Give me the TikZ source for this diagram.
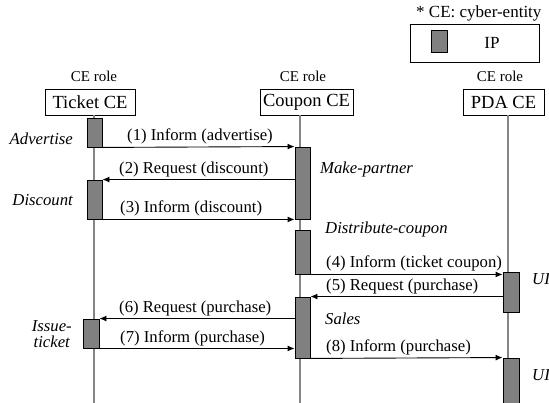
\documentclass[tikz,border=0pt]{standalone}
\usepackage{fontspec}
\setmainfont{Liberation Serif}
\usetikzlibrary{arrows.meta}
\definecolor{barfill}{HTML}{808080}
\definecolor{lifegray}{HTML}{858585}
\begin{document}
\begin{tikzpicture}[x=1pt,y=-1pt,
  lifeline/.style={draw=lifegray,line width=2.5pt},
  actbar/.style={draw=black,fill=barfill,line width=0.9pt,inner sep=0pt},
  rolebox/.style={draw=black,line width=0.9pt,inner sep=0pt,minimum height=26pt,font=\fontsize{18.5}{20}\selectfont},
  roletag/.style={inner sep=0pt,anchor=base,font=\fontsize{15}{17}\selectfont},
  msg/.style={draw=black,line width=0.9pt,-{Latex[length=7pt,width=6pt]}},
  msglabel/.style={inner sep=0pt,anchor=base west,font=\fontsize{16.7}{19}\selectfont},
  actlabel/.style={inner sep=0pt,font=\fontsize{16.7}{19}\selectfont\itshape},
]
\useasboundingbox (0,0) rectangle (549,403);

% legend
\node[inner sep=0pt,anchor=base west,font=\fontsize{17}{19}\selectfont] (legtitle) at (416,18) {* CE: cyber-entity};
\node[draw=black,line width=0.9pt,minimum width=129pt,minimum height=38pt,inner sep=0pt] (legend) at (474.5,43) {};
\node[actbar,minimum width=16pt,minimum height=22pt] (legbar) at (439,41) {};
\node[inner sep=0pt,anchor=base,font=\fontsize{17}{19}\selectfont] (legip) at (492,48.5) {IP};

% role tags
\node[roletag] (tagt) at (94,81.5) {CE role};
\node[roletag] (tagc) at (303,81.5) {CE role};
\node[roletag] (tagp) at (500,81.5) {CE role};

% role boxes
\node[rolebox,minimum width=90pt] (ticket) at (90,102) {Ticket CE};
\node[rolebox,minimum width=93pt] (coupon) at (306.5,102) {Coupon CE};
\node[rolebox,minimum width=81pt] (pda) at (503.5,102) {PDA CE};

% lifelines
\coordinate (tl) at (94,403);
\coordinate (cl) at (300,403);
\coordinate (pl) at (508,403);
\draw[lifeline] (ticket.south -| tl) -- (tl);
\draw[lifeline] (coupon.south -| cl) -- (cl);
\draw[lifeline] (pda.south -| pl) -- (pl);

% activation bars
\node[actbar,minimum width=15pt,minimum height=29pt] (t1) at (94.5,132.5) {};
\node[actbar,minimum width=15pt,minimum height=39pt] (t2) at (94.5,199.5) {};
\node[actbar,minimum width=16pt,minimum height=29pt] (t3) at (91,333.5) {};
\node[actbar,minimum width=15pt,minimum height=72pt] (c1) at (302.5,183) {};
\node[actbar,minimum width=15pt,minimum height=44pt] (c2) at (302.5,252) {};
\node[actbar,minimum width=15pt,minimum height=61pt] (c3) at (302.5,327.5) {};
\node[actbar,minimum width=16pt,minimum height=40pt] (p1) at (511,292) {};
\node[actbar,minimum width=16pt,minimum height=52pt] (p2) at (511,384) {};

% messages
\draw[msg] (t1.south east) -- (c1.north west);
\draw[msg] (c1.west |- t2.north east) -- (t2.north east);
\draw[msg] (t2.south east) -- (c1.west |- t2.south east);
\draw[msg] (c2.south east) -- (p1.west |- c2.south east);
\draw[msg] (p1.west |- c3.north east) -- (c3.north east);
\draw[msg] (c3.west |- t3.north east) -- (t3.north east);
\draw[msg] (t3.south east) -- (c3.west |- t3.south east);
\draw[msg] (c3.south east) -- (p2.north west);

% message labels
\node[msglabel] (l1) at (127,141) {(1) Inform (advertise)};
\node[msglabel] (l2) at (119,174) {(2) Request (discount)};
\node[msglabel] (l3) at (120,213) {(3) Inform (discount)};
\node[msglabel] (l4) at (326,268) {(4) Inform (ticket coupon)};
\node[msglabel] (l5) at (326,291) {(5) Request (purchase)};
\node[msglabel] (l6) at (119,313) {(6) Request (purchase)};
\node[msglabel] (l7) at (120,342) {(7) Inform (purchase)};
\node[msglabel] (l8) at (326,352) {(8) Inform (purchase)};

% activity labels
\node[actlabel,anchor=base east] (a1) at (73,145) {Advertise};
\node[actlabel,anchor=base east] (a2) at (73,206) {Discount};
\node[actlabel,anchor=base west] (a3) at (320,174) {Make-partner};
\node[actlabel,anchor=base west] (a4) at (325,234) {Distribute-coupon};
\node[actlabel,anchor=base west] (a5) at (325,325) {Sales};
\node[actlabel,anchor=base west] (a6) at (532,285) {UI};
\node[actlabel,anchor=base west] (a7) at (532,381) {UI};
\node[actlabel,anchor=base east] (a8) at (72,332) {Issue-};
\node[actlabel,anchor=base east] (a9) at (70,348) {ticket};
\end{tikzpicture}
\end{document}
